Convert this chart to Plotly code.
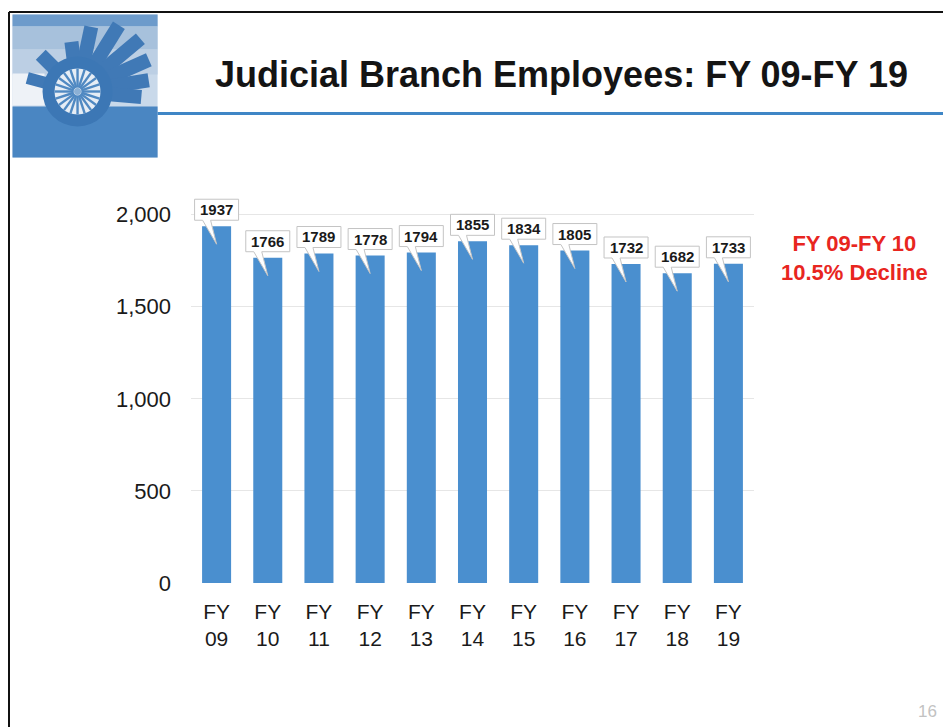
import math
import plotly.graph_objects as go

# ---------------- data ----------------
fiscal_years = ["09", "10", "11", "12", "13", "14", "15", "16", "17", "18", "19"]
employees = [1937, 1766, 1789, 1778, 1794, 1855, 1834, 1805, 1732, 1682, 1733]
categories = ["FY<br>" + fy for fy in fiscal_years]
y_ticks = [0, 500, 1000, 1500, 2000]
title_text = "Judicial Branch Employees: FY 09-FY 19"
note_text = "FY 09-FY 10<br>10.5% Decline"
page_number = "16"

# ---------------- layout geometry (pixels, reference frame) ----------------
OFF = 8                        # page body margin of the html page
REF_W, REF_H = 951, 727
FIG_W, FIG_H = REF_W - OFF, REF_H - OFF
L, RGT = 191.4, 754.1          # plot area x extent
BASE = 583.0                   # y pixel of value 0
PX_PER_UNIT = 368.0 / 2000.0
Y_MAX = 2150
H = Y_MAX * PX_PER_UNIT
T = BASE - H
W = RGT - L

def px(x):
    return (x - L) / W

def py(y):
    return (BASE - y) / H

BAR_COLOR = "#4a8fcf"
FONT = "Liberation Sans, Arial, sans-serif"

fig = go.Figure()
fig.add_trace(go.Bar(
    x=categories, y=employees,
    marker=dict(color=BAR_COLOR, line=dict(width=0)),
    hoverinfo="skip",
))

shapes = []

# callout boxes with tails (pixel offsets relative to the bar top)
callout_path = "M -22,6 L -14,6 L 0,-18 L -6,6 L 22,6 L 22,27 L -22,27 Z"
annotations = []
for cat, v in zip(categories, employees):
    shapes.append(dict(
        type="path", xref="x", yref="y",
        xsizemode="pixel", ysizemode="pixel",
        xanchor=cat, yanchor=v,
        path=callout_path,
        fillcolor="white", line=dict(color="#c4c4c4", width=1),
        layer="above",
    ))
    annotations.append(dict(
        x=cat, y=v, xref="x", yref="y", yshift=16.5,
        text=f"<b>{v}</b>", showarrow=False,
        font=dict(family=FONT, size=15, color="#1a1a1a"),
        xanchor="center", yanchor="middle",
    ))

# ---------- slide decorations (paper coords from pixel positions) ----------
def rect(x0, y0, x1, y1, color):
    return dict(type="rect", xref="paper", yref="paper",
                x0=px(x0), x1=px(x1), y0=py(y1), y1=py(y0),
                fillcolor=color, line=dict(width=0), layer="below")

def poly(points, color):
    d = "M " + " L ".join(f"{px(a):.5f},{py(b):.5f}" for a, b in points) + " Z"
    return dict(type="path", xref="paper", yref="paper", path=d,
                fillcolor=color, line=dict(width=0), layer="below")

def circle(cx, cy, r, color):
    return dict(type="circle", xref="paper", yref="paper",
                x0=px(cx - r), x1=px(cx + r), y0=py(cy + r), y1=py(cy - r),
                fillcolor=color, line=dict(width=0), layer="below")

def seg(x0, y0, x1, y1, color, w):
    return dict(type="line", xref="paper", yref="paper",
                x0=px(x0), x1=px(x1), y0=py(y0), y1=py(y1),
                line=dict(color=color, width=w), layer="below")

# logo
shapes.append(rect(13, 15, 158, 158, "#c9d9ea"))
shapes.append(rect(13, 15, 158, 27, "#6d9bcb"))
shapes.append(rect(13, 27, 158, 50, "#a7c1dc"))
shapes.append(rect(13, 50, 158, 75, "#bccfe4"))
shapes.append(rect(13, 74, 45, 106, "#eef2f7"))
shapes.append(rect(13, 107, 158, 158, "#4a86c2"))
cx, cy = 78, 92
rays = [(165, 52, 6), (135, 52, 7), (97, 50, 7), (78, 66, 7), (58, 78, 7),
        (40, 82, 7), (24, 78, 7), (9, 72, 7), (-5, 64, 7)]
for ang, ln, hw in rays:
    a = math.radians(ang)
    ux, uy = math.cos(a), -math.sin(a)
    nx, ny = -uy, ux
    pts = [(cx + nx * hw, cy + ny * hw),
           (cx + ux * ln + nx * hw, cy + uy * ln + ny * hw),
           (cx + ux * ln - nx * hw, cy + uy * ln - ny * hw),
           (cx - nx * hw, cy - ny * hw)]
    shapes.append(poly(pts, "#4079b6"))
shapes.append(circle(cx, cy, 35, "#3c77b5"))
shapes.append(circle(cx, cy, 23, "#e6edf5"))
for k in range(20):
    a = math.radians(k * 18)
    shapes.append(seg(cx + 4 * math.cos(a), cy + 4 * math.sin(a),
                      cx + 23 * math.cos(a), cy + 23 * math.sin(a), "#5089c2", 2.4))
shapes.append(circle(cx, cy, 3.5, "#8bb0d5"))

# header rule and slide frame
shapes.append(seg(158, 114, REF_W, 114, "#3f86c6", 3))
shapes.append(seg(9.5, 12.5, REF_W, 12.5, "#111111", 2))
shapes.append(seg(9.5, 12.5, 9.5, REF_H, "#111111", 2))

annotations += [
    dict(x=px(562), y=py(75), xref="paper", yref="paper",
         text=f"<b>{title_text}</b>", showarrow=False,
         font=dict(family=FONT, size=36, color="#141414"),
         xanchor="center", yanchor="middle"),
    dict(x=px(855), y=py(258), xref="paper", yref="paper",
         text=f"<b>{note_text}</b>", showarrow=False,
         font=dict(family=FONT, size=22, color="#e8261f"),
         xanchor="center", yanchor="middle"),
    dict(x=px(928), y=py(711), xref="paper", yref="paper",
         text=page_number, showarrow=False,
         font=dict(family=FONT, size=17, color="#c2c2c2"),
         xanchor="center", yanchor="middle"),
]

fig.update_layout(
    width=FIG_W, height=FIG_H,
    margin=dict(l=L - OFF, r=REF_W - RGT, t=T - OFF, b=REF_H - BASE, pad=0),
    paper_bgcolor="white", plot_bgcolor="white",
    showlegend=False, bargap=0.433,
    shapes=shapes, annotations=annotations,
    font=dict(family=FONT, color="#1a1a1a"),
)
fig.update_xaxes(
    type="category", showgrid=False, showline=False, zeroline=False,
    ticks="", tickfont=dict(family=FONT, size=21, color="#1a1a1a"),
    ticklabelstandoff=14,
)
fig.update_yaxes(
    range=[0, Y_MAX], tickvals=y_ticks, tickformat=",",
    showgrid=True, gridcolor="#e6e6e6", gridwidth=1,
    zeroline=False, showline=False, ticks="",
    tickfont=dict(family=FONT, size=22, color="#1a1a1a"),
    ticklabelstandoff=19,
)

fig.write_html("out.html")
